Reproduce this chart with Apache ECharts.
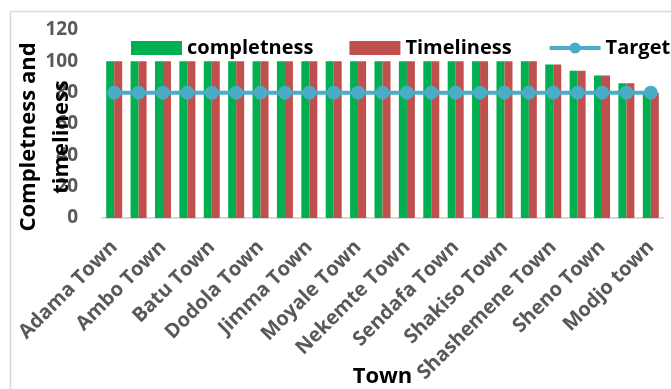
<!DOCTYPE html>
<html>
<head>
<meta charset="utf-8">
<script src="https://cdn.jsdelivr.net/npm/echarts@6/dist/echarts.min.js"></script>
<style>
html,body{margin:0;padding:0;background:#fff;}
#chart{width:671px;height:389px;}
</style>
</head>
<body>
<div id="chart"></div>
<script>
// Categories (odd-index names are hidden in the reference; placeholders)
const towns = [
  "Adama Town", "Agaro Town", "Ambo Town", "Asella Town", "Batu Town", "Bishoftu Town",
  "Dodola Town", "Gimbi Town", "Jimma Town", "Metu Town", "Moyale Town", "Negele Town",
  "Nekemte Town", "Robe Town", "Sendafa Town", "Sebeta Town", "Shakiso Town", "Shambu Town",
  "Shashemene Town", "Shakiso Rural", "Sheno Town", "Sululta Town", "Modjo town"
];
const completeness = [100,100,100,100,100,100,100,100,100,100,100,100,100,100,100,100,100,100,98,94,91,86,80];
const timeliness   = [100,100,100,100,100,100,100,100,100,100,100,100,100,100,100,100,100,100,98,94,91,86,80];
const target       = [80,80,80,80,80,80,80,80,80,80,80,80,80,80,80,80,80,80,80,80,80,80,80];
const yTicks = { min: 0, max: 120, interval: 20 };

const FONT = '"Open Sans", "DejaVu Sans", sans-serif';
const chart = echarts.init(document.getElementById('chart'), null, { renderer: 'canvas' });
chart.setOption({
  animation: false,
  backgroundColor: '#ffffff',
  graphic: [
    { type: 'rect', left: 8, top: 9, shape: { x: 0, y: 0, width: 700, height: 420 },
      style: { fill: 'none', stroke: '#d9d9d9', lineWidth: 1.5 }, silent: true, z: -10 },
    { type: 'text', x: 45, y: 137, rotation: Math.PI / 2,
      style: { text: 'Completness and\ntimeliness', x: 0, y: 0, align: 'center', verticalAlign: 'middle',
        font: 'bold 22px ' + FONT, lineHeight: 33, fill: '#000000' }, z: 10 }
  ],
  legend: {
    left: 131, top: 38, width: 640, padding: 0, itemWidth: 51, itemHeight: 14, itemGap: 36,
    textStyle: { fontFamily: FONT, fontWeight: 'bold', fontSize: 20, color: '#000' },
    data: [
      { name: 'completness', icon: 'rect' },
      { name: 'Timeliness', icon: 'rect' },
      { name: 'Target', lineStyle: { width: 4, color: '#4bacc6' } }
    ]
  },
  grid: { left: 102, right: 8, top: 30, bottom: 171, containLabel: false, outerBoundsMode: 'none' },
  xAxis: {
    type: 'category', data: towns,
    name: 'Town', nameLocation: 'middle', nameGap: 148, nameMoveOverlap: false,
    nameTextStyle: { fontFamily: FONT, fontWeight: 'bold', fontSize: 22, color: '#000', verticalAlign: 'top' },
    axisLine: { lineStyle: { color: '#d9d9d9', width: 2 } },
    axisTick: { show: false },
    axisLabel: { interval: 1, rotate: 45, margin: 26, fontFamily: FONT, fontWeight: 'bold', fontSize: 20, color: '#595959' }
  },
  yAxis: {
    type: 'value', min: yTicks.min, max: yTicks.max, interval: yTicks.interval,
    axisLine: { show: false }, axisTick: { show: false }, splitLine: { show: false },
    axisLabel: { margin: 24, fontFamily: FONT, fontWeight: 'bold', fontSize: 19, color: '#595959' }
  },
  series: [
    { name: 'completness', type: 'bar', data: completeness, barWidth: 8, barGap: '0%',
      itemStyle: { color: '#00b050' } },
    { name: 'Timeliness', type: 'bar', data: timeliness, barWidth: 8, barGap: '0%',
      itemStyle: { color: '#c0504d' } },
    { name: 'Target', type: 'line', data: target, symbol: 'circle', symbolSize: 14,
      lineStyle: { color: '#4bacc6', width: 4 }, itemStyle: { color: '#4bacc6' }, z: 5 }
  ]
});
</script>
</body>
</html>
